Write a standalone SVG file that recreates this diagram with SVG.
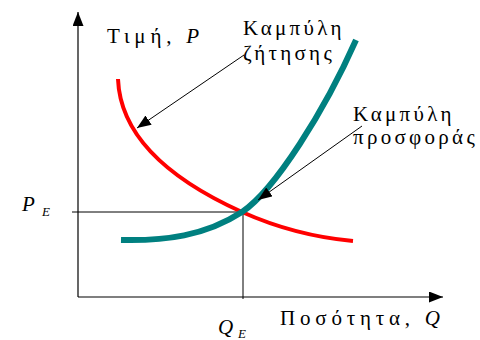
<svg xmlns="http://www.w3.org/2000/svg" width="480" height="340" viewBox="0 0 480 340">
<defs>
<style>
.ax{stroke:#000;stroke-width:1.2;fill:none}
.thin{stroke:#000;stroke-width:1;fill:none}
.lbl{font-family:"Liberation Serif","DejaVu Serif",serif;font-size:21px;fill:#000;letter-spacing:3.3px}
.wide{letter-spacing:4.8px}
.it{font-style:italic}
.sub{font-family:"Liberation Serif","DejaVu Serif",serif;font-size:13px;font-style:italic;fill:#000}
</style>
<marker id="ah" markerUnits="userSpaceOnUse" markerWidth="16" markerHeight="12" refX="14" refY="5.5" orient="auto">
<path d="M0,0 L14,5.5 L0,11 Z" fill="#000"/>
</marker>
</defs>
<rect width="480" height="340" fill="#fff"/>
<g id="axes">
<line class="ax" x1="78" y1="297" x2="78" y2="12" marker-end="url(#ah)"/>
<line class="ax" x1="78" y1="297" x2="443" y2="297" marker-end="url(#ah)"/>
</g>
<g id="guides">
<line class="thin" x1="72" y1="212" x2="243" y2="212"/>
<line class="thin" x1="243" y1="212" x2="243" y2="299"/>
</g>
<g id="demand">
<path d="M118,79 C120,130 160,175 242,212 C280,229 320,238 353,241" fill="none" stroke="#ff0000" stroke-width="4"/>
</g>
<g id="supply">
<path d="M121,240 C165,241 205,236 242,212 C275,190 325,110 356,40" fill="none" stroke="#008080" stroke-width="6"/>
</g>
<g id="connectors">
<line class="thin" x1="244" y1="55" x2="137" y2="128" marker-end="url(#ah)"/>
<line class="thin" x1="362" y1="126" x2="258" y2="200" marker-end="url(#ah)"/>
</g>
<g id="labels">
<text class="lbl wide" x="107" y="43">Τιμή, <tspan class="it">P</tspan></text>
<text class="lbl" x="243" y="35">Καμπύλη</text>
<text class="lbl" x="243" y="60">ζήτησης</text>
<text class="lbl" x="353" y="121">Καμπύλη</text>
<text class="lbl" x="353" y="144">προσφοράς</text>
<text class="lbl it" x="22" y="211">P</text>
<text class="sub" x="42" y="216">E</text>
<text class="lbl it" x="218" y="334">Q</text>
<text class="sub" x="238" y="338">E</text>
<text class="lbl wide" x="280" y="325">Ποσότητα, <tspan class="it">Q</tspan></text>
</g>
</svg>
